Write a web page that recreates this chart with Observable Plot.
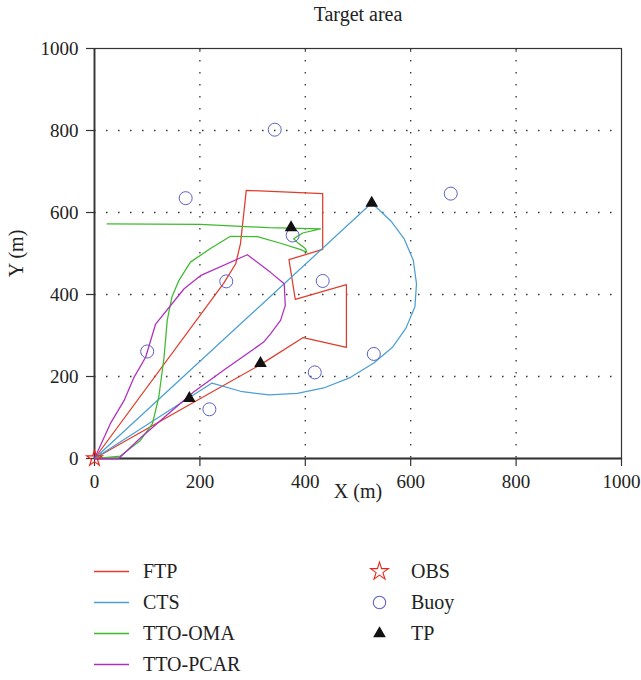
<!DOCTYPE html>
<html>
<head>
<meta charset="utf-8">
<script src="https://cdn.jsdelivr.net/npm/d3@7"></script>
<script src="https://cdn.jsdelivr.net/npm/@observablehq/plot@0.6"></script>
<style>
  html, body { margin: 0; padding: 0; background: #fff; }
  #wrap { position: relative; width: 641px; height: 680px; font-family: "Liberation Serif", "DejaVu Serif", serif; }
  #chart { position: absolute; left: 0; top: 0; }
  #legend { position: absolute; left: 0; top: 530px; }
  #chart svg text { font-family: "Liberation Serif", "DejaVu Serif", serif; }
</style>
</head>
<body>
<div id="wrap"><div id="chart"></div><div id="legend"></div></div>
<script>
// ---- data ----
const titleText = "Target area";
const xLabel = "X (m)";
const yLabel = "Y (m)";
const xTicks = [0, 200, 400, 600, 800, 1000];
const yTicks = [0, 200, 400, 600, 800, 1000];
const gridTicks = [200, 400, 600, 800];

const ftp = [[0,0],[180,131],[315,229],[396,295],[478,271],[478,424],[381,388],[369,485],[433,510],[433,646],[288,654],[277,524],[268,475],[245,427],[0,0]];
const cts = [[0,0],[526,623],[562,580],[588,535],[605,483],[611,426],[608,370],[591,318],[566,272],[530,233],[486,198],[435,172],[385,159],[331,155],[277,164],[223,184],[0,0]];
const ttoOma = [[0,0],[49,6],[87,44],[110,85],[122,150],[132,247],[138,337],[147,394],[160,434],[182,479],[220,512],[258,542],[309,541],[353,525],[390,510],[403,503],[400,512],[385,527],[378,536],[395,550],[429,560],[330,563],[201,571],[24,572]];
const ttoPcar = [[0,0],[30,85],[56,141],[75,198],[97,247],[116,328],[170,414],[201,446],[290,497],[334,454],[360,426],[362,373],[353,337],[334,304],[321,284],[245,215],[188,162],[87,50],[46,0],[0,0]];

const obs = [[0,0]];
const buoys = [[173,635],[342,802],[676,646],[250,432],[376,544],[433,433],[100,261],[218,120],[418,210],[530,255]];
const tps = [[180,147],[315,232],[373,563],[526,623]];

const seriesNames = ["FTP", "CTS", "TTO-OMA", "TTO-PCAR"];
const seriesColors = ["#e03c2c", "#4b9fd5", "#3dba2c", "#b02dbf"];
const seriesData = [ftp, cts, ttoOma, ttoPcar];
const markerNames = ["OBS", "Buoy", "TP"];
const obsColor = "#e8261a";
const buoyColor = "#5b5fc7";
const tpColor = "#111111";

// ---- chart ----
const axisColor = "#333";
const serif = "'Liberation Serif', 'DejaVu Serif', serif";
const lineMarks = seriesData.map((d, i) =>
  Plot.line(d, {x: p => p[0], y: p => p[1], stroke: seriesColors[i], strokeWidth: 1.25, curve: "linear"})
);

const chart = Plot.plot({
  width: 641,
  height: 530,
  marginTop: 48,
  marginRight: 20,
  marginBottom: 72,
  marginLeft: 94,
  style: {fontFamily: serif, fontSize: "19px", color: "#222", background: "transparent", overflow: "visible"},
  x: {domain: [0, 1000]},
  y: {domain: [0, 1000]},
  marks: [
    Plot.gridX(gridTicks, {stroke: "#333", strokeOpacity: 1, strokeWidth: 1.3, strokeDasharray: "1.5,10.5"}),
    Plot.gridY(gridTicks, {stroke: "#333", strokeOpacity: 1, strokeWidth: 1.3, strokeDasharray: "1.5,10.5"}),
    Plot.frame({stroke: axisColor, strokeWidth: 1.2}),
    Plot.axisX(xTicks, {tickSize: 8, tickPadding: 8, label: null, tickFormat: d => String(d), stroke: axisColor, strokeWidth: 1.2, fontFamily: serif, fontSize: 19}),
    Plot.axisY(yTicks, {tickSize: 8, tickPadding: 8, label: null, tickFormat: d => String(d), stroke: axisColor, strokeWidth: 1.2, fontFamily: serif, fontSize: 19}),
    Plot.axisX(gridTicks, {anchor: "top", tickSize: -3, tickFormat: () => "", label: null, stroke: axisColor}),
    Plot.ruleX([0], {stroke: axisColor, strokeWidth: 1.8}),
    Plot.ruleY([0], {stroke: axisColor, strokeWidth: 1.8}),
    ...lineMarks,
    Plot.dot(buoys, {x: p => p[0], y: p => p[1], r: 6.5, stroke: buoyColor, fill: "none", strokeWidth: 1}),
    Plot.dot(tps, {x: p => p[0], y: p => p[1], symbol: "triangle", r: 4.7, fill: tpColor, stroke: "none"}),
    Plot.dot(obs, {x: p => p[0], y: p => p[1], symbol: "star", r: 4.9, fill: "none", stroke: obsColor, strokeWidth: 1.2}),
    Plot.text([titleText], {frameAnchor: "top", lineAnchor: "middle", dy: -34, fontSize: 20, fill: "#222", fontFamily: serif}),
    Plot.text([xLabel], {frameAnchor: "bottom", lineAnchor: "middle", textAnchor: "middle", dy: 33, fontSize: 20, fill: "#222", fontFamily: serif}),
    Plot.text([yLabel], {frameAnchor: "left", lineAnchor: "middle", textAnchor: "middle", dx: -78, rotate: -90, fontSize: 20, fill: "#222", fontFamily: serif})
  ]
});
document.getElementById("chart").appendChild(chart);

// ---- legend ----
const lg = d3.select("#legend").append("svg")
  .attr("width", 641).attr("height", 150)
  .style("font-family", serif)
  .style("font-size", "20px");
const rowY = [41, 72, 103, 134];
seriesNames.forEach((name, i) => {
  lg.append("line").attr("x1", 94).attr("x2", 129).attr("y1", rowY[i] + 0.5).attr("y2", rowY[i] + 0.5)
    .attr("stroke", seriesColors[i]).attr("stroke-width", 1.3);
  lg.append("text").attr("x", 143).attr("y", rowY[i] + 7).attr("fill", "#222").text(name);
});
const symbolSpecs = [
  {type: d3.symbolStar, size: 5.6 * 5.6 * Math.PI, fill: "none", stroke: obsColor},
  {type: d3.symbolCircle, size: 6.2 * 6.2 * Math.PI, fill: "none", stroke: buoyColor},
  {type: d3.symbolTriangle, size: 4.7 * 4.7 * Math.PI, fill: tpColor, stroke: "none"}
];
markerNames.forEach((name, i) => {
  const s = symbolSpecs[i];
  lg.append("path").attr("d", d3.symbol(s.type, s.size)())
    .attr("transform", `translate(379.5,${rowY[i] + 0.5})`)
    .attr("fill", s.fill).attr("stroke", s.stroke).attr("stroke-width", 1.1);
  lg.append("text").attr("x", 411).attr("y", rowY[i] + 7).attr("fill", "#222").text(name);
});
</script>
</body>
</html>
